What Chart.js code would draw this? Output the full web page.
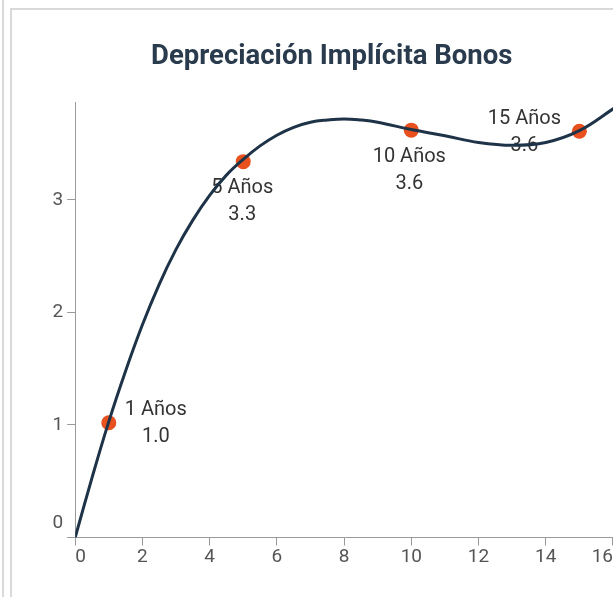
<!DOCTYPE html>
<html>
<head>
<meta charset="utf-8">
<script src="https://cdn.jsdelivr.net/npm/chart.js@4.4.1/dist/chart.umd.min.js"></script>
<style>
html, body { margin: 0; padding: 0; overflow: hidden; background: #fff; width: 613px; height: 597px; }
#side { position: absolute; left: 2px; top: 0; height: 597px; border-left: 2px solid #d9d9d9; }
#card { position: absolute; left: 10px; top: 8px; width: 640px; height: 640px;
        border-top: 2px solid #d9d9d9; border-left: 2px solid #d9d9d9; }
#chart { position: absolute; left: 0; top: 0; }
</style>
</head>
<body>
<div id="side"></div>
<div id="card"><canvas id="chart" width="612" height="587"></canvas></div>
<script>
// puntos de la serie
const years = [1, 5, 10, 15];
const depreciation = [1.02, 3.34, 3.62, 3.61];

// curva de ajuste
const curveX = [0, 0.5, 1, 1.5, 2, 2.5, 3, 3.5, 4, 4.5, 5, 5.5, 6, 6.5, 7, 7.5, 8, 8.5, 9, 10, 11, 12, 13, 14, 15, 16.06];
const curveY = [0, 0.53, 1.03, 1.48, 1.89, 2.25, 2.56, 2.82, 3.04, 3.22, 3.36, 3.48, 3.575, 3.645, 3.69, 3.71, 3.72, 3.71, 3.69, 3.625, 3.57, 3.51, 3.485, 3.51, 3.615, 3.82];

const xTicks = [0, 2, 4, 6, 8, 10, 12, 14, 16];
const yTicks = [0, 1, 2, 3];

const curve = curveX.map((x, i) => ({x: x, y: curveY[i]}));
const points = years.map((x, i) => ({x: x, y: depreciation[i]}));

const pointLabels = {
  id: 'pointLabels',
  beforeDatasetsDraw(chart, args, opts) {
    const meta = chart.getDatasetMeta(1);
    const ctx = chart.ctx;
    ctx.save();
    ctx.font = opts.font;
    ctx.fillStyle = opts.color;
    ctx.textAlign = 'center';
    ctx.textBaseline = 'middle';
    meta.data.forEach((pt, i) => {
      const off = opts.offsets[i];
      ctx.fillText(years[i] + ' Años', pt.x + off[0], pt.y + off[1] - opts.gap / 2);
      ctx.fillText(depreciation[i].toFixed(1), pt.x + off[0], pt.y + off[1] + opts.gap / 2);
    });
    ctx.restore();
  }
};

const tickFont = {family: 'Roboto', size: 19};

let chart = new Chart(document.getElementById('chart'), {
  type: 'line',
  data: {
    datasets: [
      {data: curve, borderColor: '#1e3348', borderWidth: 3, pointRadius: 0,
       tension: 0.4, fill: false, order: 0},
      {type: 'scatter', data: points, backgroundColor: '#e8501e', borderWidth: 0,
       pointRadius: 7.5, order: 1}
    ]
  },
  options: {
    responsive: false,
    animation: false,
    layout: {padding: {left: 36.5, right: 9, top: 0, bottom: 28.7}},
    plugins: {
      legend: {display: false},
      tooltip: {enabled: false},
      title: {display: true, text: 'Depreciación Implícita Bonos', color: '#2a3b4e',
              font: {family: 'Roboto', size: 27.5, weight: 'bold'}, padding: {top: 30.5, bottom: 28.5}},
      pointLabels: {font: '20px Roboto', color: '#333', gap: 27,
                    offsets: [[47, 1], [-1, 40], [-2, 40], [-55, 1]]}
    },
    scales: {
      x: {
        type: 'linear', min: 0, max: 16.06,
        afterBuildTicks: (s) => { s.ticks = xTicks.map(v => ({value: v})); },
        ticks: {align: 'inner', font: tickFont, color: '#555', padding: 0, maxRotation: 0},
        grid: {drawOnChartArea: false, tickLength: 8, color: '#999'},
        border: {color: '#999'}
      },
      y: {
        min: 0, max: 3.87,
        afterBuildTicks: (s) => { s.ticks = yTicks.map(v => ({value: v})); },
        ticks: {font: {family: 'Roboto', size: 19, lineHeight: 1.5}, color: '#555', padding: 4,
                callback: (v) => v === 0 ? ['0', ''] : String(v)},
        grid: {drawOnChartArea: false, tickLength: 8, color: '#999'},
        border: {color: '#999'}
      }
    }
  },
  plugins: [pointLabels]
});
</script>
</body>
</html>
